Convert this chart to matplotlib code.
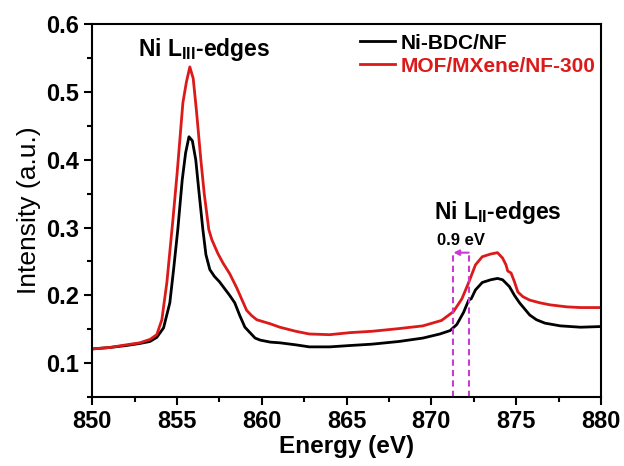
import matplotlib
matplotlib.use("Agg")
import matplotlib.pyplot as plt
from matplotlib.ticker import MultipleLocator

plt.rcParams['font.family'] = ['Liberation Sans', 'DejaVu Sans']
plt.rcParams['font.weight'] = 'bold'
plt.rcParams['mathtext.fontset'] = 'custom'
plt.rcParams['mathtext.rm'] = 'Liberation Sans'
plt.rcParams['mathtext.bf'] = 'Liberation Sans:bold'

# Ni L-edge XAS spectra
energy_bdc = [850.0, 851.0, 852.0, 852.8, 853.4, 853.8, 854.2, 854.57, 854.8, 855.04,
              855.3, 855.5, 855.7, 855.9, 856.1, 856.3, 856.52, 856.7, 856.93, 857.2,
              857.5, 857.8, 858.1, 858.4, 858.7, 859.0, 859.3, 859.6, 859.9, 860.5,
              861.06, 862.0, 862.8, 864.0, 865.2, 866.5, 868.1, 869.5, 870.5, 871.1,
              871.5, 871.9, 872.2, 872.35, 872.6, 873.0, 873.5, 873.9, 874.2, 874.6,
              874.9, 875.2, 875.5, 875.8, 876.2, 876.7, 877.6, 878.8, 880.0]
intensity_bdc = [0.121, 0.123, 0.126, 0.129, 0.132, 0.138, 0.152, 0.189, 0.240, 0.297,
                 0.370, 0.410, 0.434, 0.428, 0.400, 0.350, 0.297, 0.260, 0.238, 0.228,
                 0.220, 0.210, 0.200, 0.189, 0.170, 0.153, 0.145, 0.137, 0.134, 0.131,
                 0.130, 0.127, 0.124, 0.124, 0.126, 0.128, 0.132, 0.137, 0.143, 0.148,
                 0.157, 0.175, 0.193, 0.195, 0.208, 0.219, 0.223, 0.225, 0.223, 0.213,
                 0.200, 0.189, 0.180, 0.171, 0.164, 0.159, 0.155, 0.153, 0.154]

energy_mxene = [850.0, 851.0, 852.0, 852.8, 853.4, 853.8, 854.1, 854.4, 854.75, 855.0,
                855.34, 855.55, 855.75, 855.95, 856.15, 856.4, 856.6, 856.87, 857.05, 857.4,
                857.7, 858.1, 858.5, 858.8, 859.1, 859.4, 859.7, 860.5, 861.06, 862.0,
                862.8, 864.0, 865.2, 866.5, 868.1, 869.5, 870.6, 871.3, 871.8, 872.2,
                872.6, 873.0, 873.5, 873.9, 874.2, 874.4, 874.5, 874.7, 874.9, 875.1,
                875.4, 875.8, 876.4, 877.0, 878.0, 878.8, 880.0]
intensity_mxene = [0.121, 0.123, 0.127, 0.130, 0.135, 0.142, 0.164, 0.220, 0.311, 0.380,
                   0.484, 0.515, 0.537, 0.520, 0.470, 0.400, 0.350, 0.297, 0.282, 0.262,
                   0.248, 0.232, 0.212, 0.195, 0.178, 0.170, 0.164, 0.158, 0.153, 0.147,
                   0.143, 0.142, 0.145, 0.147, 0.151, 0.155, 0.163, 0.176, 0.195, 0.219,
                   0.245, 0.257, 0.261, 0.263, 0.255, 0.245, 0.236, 0.233, 0.220, 0.205,
                   0.198, 0.193, 0.189, 0.186, 0.183, 0.182, 0.182]

# L_II edge shift markers
edge_positions = [871.3, 872.2]
shift_level = 0.263

red = '#dc1a1a'
magenta = '#c83cd2'

fig = plt.figure(figsize=(6.24, 4.66), dpi=100)
ax = fig.add_axes([0.148, 0.148, 0.815, 0.800])

ax.plot(energy_bdc, intensity_bdc, color='black', lw=2.0, label='Ni-BDC/NF')
ax.plot(energy_mxene, intensity_mxene, color=red, lw=2.0, label='MOF/MXene/NF-300')

ax.set_xlim(850, 880)
ax.set_ylim(0.05, 0.6)

for xe in edge_positions:
    ax.plot([xe, xe], [0.05, shift_level], color=magenta, lw=1.5, ls=(0, (3, 2)))
ax.annotate('', xy=(edge_positions[0], shift_level), xytext=(edge_positions[1], shift_level),
            arrowprops=dict(arrowstyle='-|>', color=magenta, lw=1.5,
                            mutation_scale=8, shrinkA=0, shrinkB=0))
ax.text(871.75, 0.281, '0.9 eV', ha='center', va='center',
        fontsize=12, fontweight='bold')

ax.text(852.7, 0.562, r'Ni L$_{\rm III}$-edges', fontsize=16.5, fontweight='bold',
        ha='left', va='center')
ax.text(870.15, 0.322, r'Ni L$_{\rm II}$-edges', fontsize=16.5, fontweight='bold',
        ha='left', va='center')

ax.xaxis.set_major_locator(MultipleLocator(5))
ax.xaxis.set_minor_locator(MultipleLocator(2.5))
ax.yaxis.set_major_locator(MultipleLocator(0.1))
ax.yaxis.set_minor_locator(MultipleLocator(0.05))
ax.tick_params(which='both', direction='out', width=1.5, top=False, right=False)
ax.tick_params(which='major', length=6, labelsize=17)
ax.tick_params(which='minor', length=3.5)
for lab in ax.get_xticklabels() + ax.get_yticklabels():
    lab.set_fontweight('bold')
for sp in ax.spines.values():
    sp.set_linewidth(1.5)

ax.set_xlabel('Energy (eV)', fontsize=17.5, fontweight='bold', labelpad=1)
ax.set_ylabel('Intensity (a.u.)', fontsize=19, fontweight='normal', labelpad=4)

leg = ax.legend(loc='upper left', frameon=False, fontsize=15, handlelength=1.7,
                handletextpad=0.25, labelspacing=0.2, borderaxespad=0, borderpad=0,
                bbox_to_anchor=(0.526, 0.975))
for txt, line in zip(leg.get_texts(), leg.get_lines()):
    txt.set_fontweight('bold')
    txt.set_color(line.get_color())

fig.savefig('out.png', dpi=100)
